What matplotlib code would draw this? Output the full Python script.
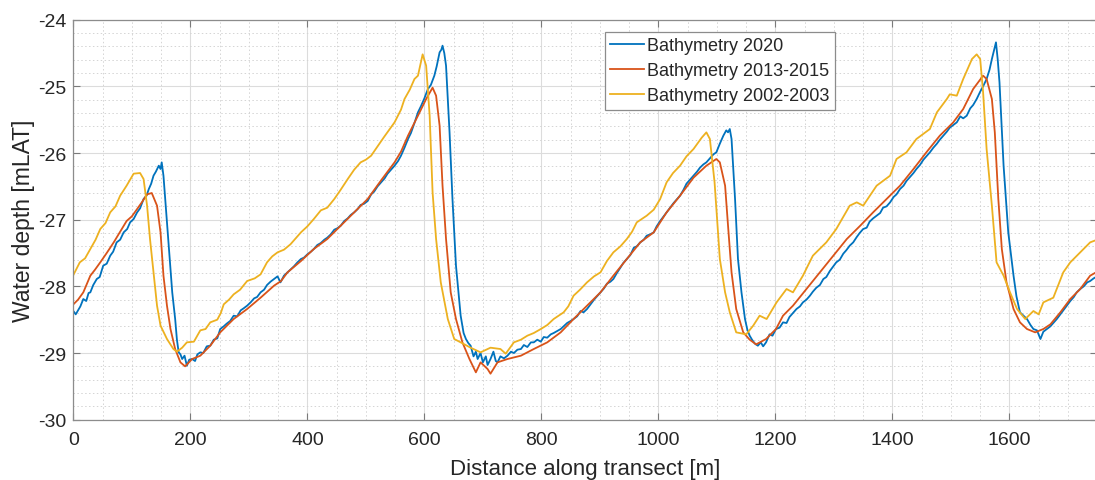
import matplotlib
matplotlib.use("Agg")
import matplotlib.pyplot as plt
from matplotlib.ticker import MultipleLocator

plt.rcParams['font.family'] = ['Liberation Sans', 'DejaVu Sans']
plt.rcParams['axes.unicode_minus'] = False

# Bathymetry 2020
x_2020 = [0, 4, 8, 12, 17, 22, 26, 29, 34, 40, 45, 51, 57, 63, 68, 74, 80, 86, 92, 97,
          103, 109, 114, 120, 125, 129, 133, 137, 141, 146, 149, 151, 154, 157, 163, 169, 174, 177, 180, 183,
          186, 190, 194, 198, 203, 208, 212, 217, 222, 228, 234, 240, 246, 251, 257, 262, 268, 274, 280, 286,
          291, 297, 303, 309, 314, 320, 326, 331, 337, 343, 349, 354, 360, 366, 372, 377, 383, 389, 394, 400,
          406, 411, 417, 423, 429, 434, 440, 446, 451, 457, 463, 469, 474, 480, 486, 491, 497, 503, 509, 514,
          520, 526, 532, 537, 543, 549, 555, 560, 566, 572, 577, 583, 589, 594, 600, 606, 611, 617, 621, 626,
          629, 631, 634, 637, 643, 648, 654, 662, 667, 671, 675, 679, 684, 688, 691, 696, 700, 705, 708, 713,
          718, 722, 725, 730, 736, 742, 748, 753, 759, 765, 770, 776, 782, 787, 793, 799, 804, 810, 816, 821,
          827, 833, 838, 844, 850, 855, 861, 867, 872, 878, 884, 890, 895, 901, 907, 912, 918, 923, 929, 935,
          940, 946, 952, 958, 963, 969, 975, 980, 986, 992, 997, 1003, 1009, 1014, 1020, 1026, 1031, 1037, 1043, 1048,
          1054, 1060, 1066, 1071, 1077, 1082, 1088, 1094, 1099, 1105, 1111, 1116, 1119, 1122, 1125, 1131, 1136, 1142, 1148, 1152,
          1156, 1160, 1165, 1170, 1175, 1179, 1184, 1190, 1195, 1201, 1207, 1213, 1219, 1224, 1230, 1236, 1242, 1247, 1253, 1259,
          1264, 1270, 1276, 1282, 1287, 1293, 1299, 1304, 1310, 1316, 1321, 1327, 1333, 1339, 1344, 1350, 1356, 1361, 1367, 1373,
          1379, 1384, 1390, 1396, 1402, 1407, 1413, 1419, 1424, 1430, 1436, 1441, 1447, 1453, 1458, 1464, 1470, 1476, 1481, 1487,
          1493, 1498, 1504, 1510, 1516, 1521, 1527, 1533, 1538, 1544, 1550, 1555, 1561, 1566, 1570, 1574, 1577, 1580, 1583, 1590,
          1598, 1607, 1612, 1618, 1624, 1630, 1636, 1641, 1647, 1653, 1658, 1664, 1670, 1675, 1681, 1687, 1692, 1698, 1704, 1710,
          1715, 1721, 1727, 1733, 1738, 1744, 1750]
y_2020 = [-28.37, -28.42, -28.36, -28.30, -28.19, -28.22, -28.10, -28.09, -27.98, -27.89, -27.86, -27.69, -27.66, -27.54, -27.48, -27.34, -27.30, -27.19, -27.14, -27.04,
          -26.99, -26.89, -26.83, -26.69, -26.64, -26.54, -26.46, -26.34, -26.28, -26.19, -26.24, -26.14, -26.34, -26.69, -27.39, -28.09, -28.49, -28.80, -28.99, -29.02,
          -29.09, -29.04, -29.19, -29.10, -29.09, -29.12, -29.02, -28.99, -29.00, -28.90, -28.89, -28.80, -28.78, -28.64, -28.60, -28.56, -28.52, -28.44, -28.45, -28.36,
          -28.33, -28.29, -28.24, -28.18, -28.16, -28.09, -28.05, -27.98, -27.93, -27.89, -27.85, -27.94, -27.84, -27.79, -27.74, -27.70, -27.64, -27.59, -27.57, -27.52,
          -27.48, -27.44, -27.38, -27.35, -27.30, -27.27, -27.22, -27.15, -27.13, -27.09, -27.02, -26.98, -26.93, -26.89, -26.84, -26.78, -26.76, -26.72, -26.62, -26.58,
          -26.50, -26.44, -26.38, -26.31, -26.25, -26.19, -26.12, -26.04, -25.92, -25.79, -25.70, -25.55, -25.39, -25.30, -25.18, -25.04, -24.98, -24.84, -24.70, -24.49,
          -24.45, -24.39, -24.50, -24.69, -25.69, -26.69, -27.69, -28.44, -28.70, -28.79, -28.85, -28.89, -29.05, -28.98, -29.09, -29.00, -29.14, -29.05, -29.18, -29.09,
          -28.98, -29.12, -29.14, -29.05, -29.08, -29.04, -28.98, -29.00, -28.95, -28.94, -28.88, -28.91, -28.84, -28.84, -28.80, -28.83, -28.76, -28.77, -28.72, -28.70,
          -28.67, -28.64, -28.60, -28.55, -28.52, -28.49, -28.45, -28.37, -28.39, -28.34, -28.27, -28.20, -28.15, -28.09, -28.03, -27.96, -27.93, -27.89, -27.80, -27.72,
          -27.65, -27.59, -27.53, -27.42, -27.40, -27.34, -27.30, -27.24, -27.22, -27.19, -27.10, -27.02, -26.95, -26.89, -26.82, -26.75, -26.70, -26.64, -26.55, -26.46,
          -26.40, -26.34, -26.28, -26.22, -26.17, -26.14, -26.08, -26.02, -25.99, -25.86, -25.74, -25.66, -25.69, -25.64, -25.79, -26.69, -27.59, -28.09, -28.49, -28.65,
          -28.74, -28.80, -28.86, -28.89, -28.84, -28.90, -28.84, -28.72, -28.74, -28.64, -28.62, -28.54, -28.55, -28.46, -28.40, -28.34, -28.30, -28.24, -28.20, -28.14,
          -28.08, -28.02, -27.98, -27.89, -27.86, -27.77, -27.70, -27.64, -27.60, -27.51, -27.46, -27.39, -27.34, -27.26, -27.20, -27.14, -27.12, -27.03, -26.98, -26.94,
          -26.90, -26.82, -26.80, -26.74, -26.66, -26.62, -26.54, -26.49, -26.42, -26.36, -26.30, -26.24, -26.18, -26.10, -26.05, -25.99, -25.92, -25.86, -25.80, -25.74,
          -25.68, -25.62, -25.58, -25.54, -25.45, -25.48, -25.44, -25.33, -25.28, -25.19, -25.08, -25.00, -24.89, -24.75, -24.59, -24.45, -24.34, -24.60, -24.94, -26.19,
          -27.19, -27.84, -28.15, -28.39, -28.44, -28.49, -28.58, -28.64, -28.66, -28.79, -28.68, -28.64, -28.60, -28.55, -28.49, -28.42, -28.36, -28.29, -28.22, -28.16,
          -28.09, -28.04, -28.00, -27.94, -27.92, -27.88, -27.85]

# Bathymetry 2013-2015
x_2013 = [0, 8, 17, 29, 37, 46, 57, 69, 80, 91, 100, 109, 117, 126, 134, 143, 149, 154, 160, 166,
          174, 183, 191, 203, 217, 234, 251, 274, 297, 320, 343, 355, 366, 389, 411, 434, 457, 480, 503, 526,
          549, 560, 572, 589, 603, 614, 620, 626, 631, 637, 645, 654, 665, 677, 688, 696, 708, 713, 725, 742,
          765, 787, 810, 833, 855, 878, 901, 923, 946, 969, 992, 1014, 1037, 1060, 1082, 1099, 1105, 1114, 1119, 1125,
          1133, 1145, 1156, 1167, 1184, 1201, 1213, 1230, 1253, 1276, 1299, 1322, 1345, 1367, 1390, 1413, 1436, 1458, 1481, 1504,
          1521, 1538, 1555, 1561, 1570, 1575, 1581, 1587, 1595, 1607, 1618, 1630, 1644, 1658, 1670, 1687, 1704, 1721, 1738, 1750]
y_2013 = [-28.27, -28.20, -28.09, -27.84, -27.75, -27.64, -27.50, -27.34, -27.18, -27.02, -26.95, -26.84, -26.74, -26.62, -26.60, -26.79, -27.19, -27.84, -28.29, -28.64,
          -28.94, -29.14, -29.20, -29.09, -29.04, -28.89, -28.69, -28.49, -28.34, -28.17, -27.99, -27.92, -27.79, -27.62, -27.44, -27.29, -27.09, -26.89, -26.69, -26.41,
          -26.14, -25.98, -25.74, -25.44, -25.19, -25.02, -25.14, -25.59, -26.49, -27.29, -28.09, -28.49, -28.84, -29.09, -29.29, -29.14, -29.24, -29.31, -29.14, -29.09,
          -29.04, -28.94, -28.84, -28.69, -28.49, -28.29, -28.09, -27.84, -27.59, -27.34, -27.19, -26.89, -26.64, -26.37, -26.19, -26.09, -26.14, -26.49, -27.09, -27.79,
          -28.34, -28.69, -28.80, -28.87, -28.79, -28.64, -28.44, -28.29, -28.04, -27.79, -27.54, -27.29, -27.09, -26.89, -26.69, -26.49, -26.24, -25.99, -25.74, -25.54,
          -25.34, -25.04, -24.84, -24.89, -25.19, -25.69, -26.69, -27.44, -27.94, -28.34, -28.54, -28.64, -28.69, -28.64, -28.57, -28.39, -28.19, -28.04, -27.84, -27.78]

# Bathymetry 2002-2003
x_2002 = [0, 11, 20, 29, 38, 46, 55, 63, 72, 80, 91, 103, 114, 120, 126, 131, 137, 143, 149, 160,
          171, 177, 186, 194, 206, 217, 226, 234, 246, 252, 257, 266, 274, 285, 297, 310, 320, 331, 340, 349,
          360, 371, 380, 389, 400, 411, 423, 434, 446, 457, 469, 480, 491, 500, 509, 520, 531, 549, 560, 566,
          575, 583, 589, 597, 603, 609, 614, 620, 628, 640, 651, 662, 679, 696, 713, 730, 739, 753, 765, 776,
          787, 799, 810, 821, 838, 846, 855, 866, 878, 890, 901, 912, 923, 935, 946, 955, 963, 980, 992, 1003,
          1014, 1025, 1037, 1048, 1060, 1074, 1082, 1088, 1096, 1105, 1114, 1122, 1133, 1150, 1162, 1173, 1185, 1202, 1219, 1230,
          1247, 1264, 1287, 1304, 1327, 1339, 1350, 1373, 1396, 1407, 1424, 1441, 1464, 1476, 1493, 1498, 1510, 1521, 1536, 1544,
          1550, 1555, 1561, 1570, 1578, 1590, 1601, 1613, 1627, 1641, 1650, 1658, 1675, 1692, 1704, 1721, 1738, 1750]
y_2002 = [-27.83, -27.64, -27.58, -27.44, -27.30, -27.14, -27.05, -26.89, -26.80, -26.64, -26.49, -26.31, -26.30, -26.39, -26.79, -27.29, -27.79, -28.29, -28.59, -28.79,
          -28.94, -28.98, -28.92, -28.84, -28.83, -28.66, -28.64, -28.54, -28.50, -28.40, -28.27, -28.20, -28.12, -28.05, -27.92, -27.88, -27.82, -27.64, -27.55, -27.49,
          -27.45, -27.37, -27.28, -27.19, -27.10, -26.99, -26.86, -26.82, -26.69, -26.55, -26.39, -26.25, -26.14, -26.10, -26.04, -25.90, -25.76, -25.54, -25.35, -25.19,
          -25.05, -24.89, -24.84, -24.52, -24.69, -25.44, -26.59, -27.29, -27.94, -28.49, -28.79, -28.84, -28.92, -28.99, -28.92, -28.94, -29.01, -28.84, -28.80, -28.74,
          -28.70, -28.64, -28.58, -28.49, -28.39, -28.30, -28.14, -28.05, -27.94, -27.85, -27.79, -27.62, -27.49, -27.40, -27.29, -27.18, -27.04, -26.94, -26.85, -26.69,
          -26.44, -26.30, -26.19, -26.05, -25.94, -25.77, -25.69, -25.79, -26.44, -27.59, -28.09, -28.39, -28.69, -28.72, -28.59, -28.44, -28.49, -28.24, -28.04, -28.09,
          -27.84, -27.54, -27.34, -27.14, -26.79, -26.74, -26.79, -26.49, -26.34, -26.09, -25.99, -25.79, -25.64, -25.39, -25.19, -25.12, -25.14, -24.89, -24.59, -24.52,
          -24.59, -25.09, -25.94, -26.79, -27.64, -27.84, -28.09, -28.34, -28.49, -28.37, -28.42, -28.24, -28.17, -27.79, -27.64, -27.49, -27.34, -27.30]

x_ticks = [0, 200, 400, 600, 800, 1000, 1200, 1400, 1600]
y_ticks = [-30, -29, -28, -27, -26, -25, -24]

fig = plt.figure(figsize=(10.95, 4.81), dpi=100)
ax = fig.add_axes([0.067, 0.1254, 0.935, 0.8316])

ax.plot(x_2020, y_2020, color='#0072BD', lw=1.3, label='Bathymetry 2020')
ax.plot(x_2013, y_2013, color='#D95319', lw=1.3, label='Bathymetry 2013-2015')
ax.plot(x_2002, y_2002, color='#EDB120', lw=1.3, label='Bathymetry 2002-2003')

ax.set_xlim(0, 1750)
ax.set_ylim(-30, -24)
ax.set_xticks(x_ticks)
ax.set_yticks(y_ticks)
ax.xaxis.set_minor_locator(MultipleLocator(50))
ax.yaxis.set_minor_locator(MultipleLocator(0.2))

ax.grid(which='major', color='#dcdcdc', lw=0.8, ls='-')
ax.grid(which='minor', color='#d4d4d4', lw=0.7, ls=(0, (1.5, 2.5)))
ax.set_axisbelow(True)

ax.tick_params(which='major', direction='in', length=5, width=0.8, color='#7a7a7a',
               labelsize=14, labelcolor='#262626', top=True, right=True)
ax.tick_params(axis='x', which='major', pad=8)
ax.tick_params(axis='y', which='major', pad=5)
ax.tick_params(which='minor', length=0)
for s in ax.spines.values():
    s.set_color('#8c8c8c')
    s.set_linewidth(0.9)

ax.set_xlabel('Distance along transect [m]', fontsize=16, color='#262626', labelpad=7)
ax.set_ylabel('Water depth [mLAT]', fontsize=16.5, color='#262626', labelpad=2)

leg = ax.legend(loc='upper left', bbox_to_anchor=(0.519, 0.97), fontsize=13,
                handlelength=1.9, handletextpad=0.15, borderpad=0.3, labelspacing=0.45,
                fancybox=False, framealpha=1, edgecolor='#8c8c8c', borderaxespad=0)
leg.get_frame().set_linewidth(0.9)
for t in leg.get_texts():
    t.set_color('#262626')

fig.savefig('out.png', dpi=100)
